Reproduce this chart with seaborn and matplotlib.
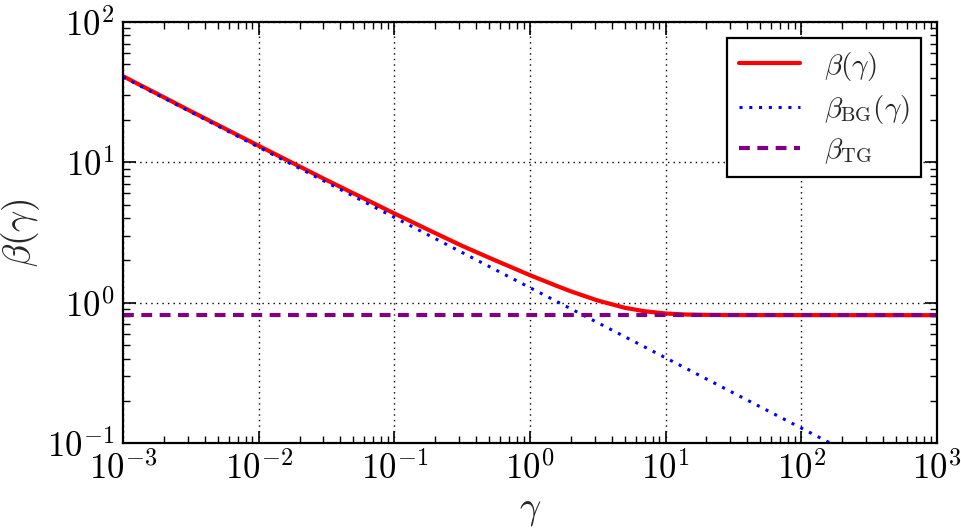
import math

import matplotlib
matplotlib.use("Agg")
import matplotlib.pyplot as plt
import matplotlib.ticker as ticker
import pandas as pd
import seaborn as sns

# values
GAMMA_BETA = [1e-3, 3.16e-3, 1e-2, 3.16e-2, 1e-1, 2e-1, 3.16e-1, 5e-1, 1.0, 1.58, 2.0, 3.16, 5.0, 7.0,
              10.0, 14.0, 20.0, 30.0, 100.0, 1000.0]
BETA = [41.0, 23.1, 13.1, 7.47, 4.32, 3.13, 2.54, 2.09, 1.57, 1.315, 1.205, 1.036, 0.92, 0.869,
        0.838, 0.824, 0.819, 0.817, 0.816, 0.815]

GAMMA_BG = [1e-3, 1e-2, 1e-1, 1.0, 10.0, 100.0, 1000.0]
BETA_BG = [40.5, 12.8, 4.05, 1.28, 0.405, 0.128, 0.0405]

GAMMA_TG = [1e-3, 1000.0]
BETA_TG = [0.815, 0.815]

sns.set_style("ticks", {"xtick.direction": "in", "ytick.direction": "in"})
plt.rcParams["mathtext.fontset"] = "cm"
plt.rcParams["font.family"] = ["DejaVu Serif"]
plt.rcParams["lines.scale_dashes"] = True

fig, ax = plt.subplots(figsize=(9.61, 5.32), dpi=100)
fig.subplots_adjust(left=0.128, right=0.975, top=0.959, bottom=0.167)

df_beta = pd.DataFrame({"g": GAMMA_BETA, "b": BETA})
df_bg = pd.DataFrame({"g": GAMMA_BG, "b": BETA_BG})
df_tg = pd.DataFrame({"g": GAMMA_TG, "b": BETA_TG})

sns.lineplot(data=df_beta, x="g", y="b", ax=ax, color="#ff0000", lw=3.0,
             label=r"$\beta(\gamma)$")
sns.lineplot(data=df_bg, x="g", y="b", ax=ax, color="#0000ff", lw=2.2,
             linestyle=(0, (1, 2.2)), label=r"$\beta_{\rm BG}(\gamma)$")
sns.lineplot(data=df_tg, x="g", y="b", ax=ax, color="#800080", lw=3.0,
             linestyle=(0, (2.6, 1.8)), label=r"$\beta_{\rm TG}$")

ax.set_xscale("log")
ax.set_yscale("log")
ax.set_xlim(1e-3, 1e3)
ax.set_ylim(1e-1, 1e2)

fmt = ticker.FuncFormatter(lambda v, p: r"$10^{%d}$" % round(math.log10(v)))
ax.xaxis.set_major_formatter(fmt)
ax.yaxis.set_major_formatter(fmt)
ax.xaxis.set_minor_formatter(ticker.NullFormatter())
ax.yaxis.set_minor_formatter(ticker.NullFormatter())

ax.tick_params(which="both", direction="in", top=True, right=True, colors="black")
ax.tick_params(which="major", length=9, width=1.2, labelsize=25, pad=6)
ax.tick_params(which="minor", length=5, width=1.0)
for s in ax.spines.values():
    s.set_linewidth(1.6)
    s.set_color("black")

ax.grid(True, which="major", color="black", linestyle=(0, (1, 3)), lw=1.0)

ax.set_xlabel(r"$\gamma$", fontsize=27, labelpad=4)
ax.set_ylabel(r"$\beta(\gamma)$", fontsize=27, labelpad=4)

leg = ax.legend(loc="upper right", fontsize=21, frameon=True, fancybox=False,
                edgecolor="black", framealpha=1, borderaxespad=0.55, handlelength=2.1,
                labelspacing=0.35, borderpad=0.4, handletextpad=0.8)
leg.get_frame().set_linewidth(1.6)

fig.savefig("out.png", dpi=100)
